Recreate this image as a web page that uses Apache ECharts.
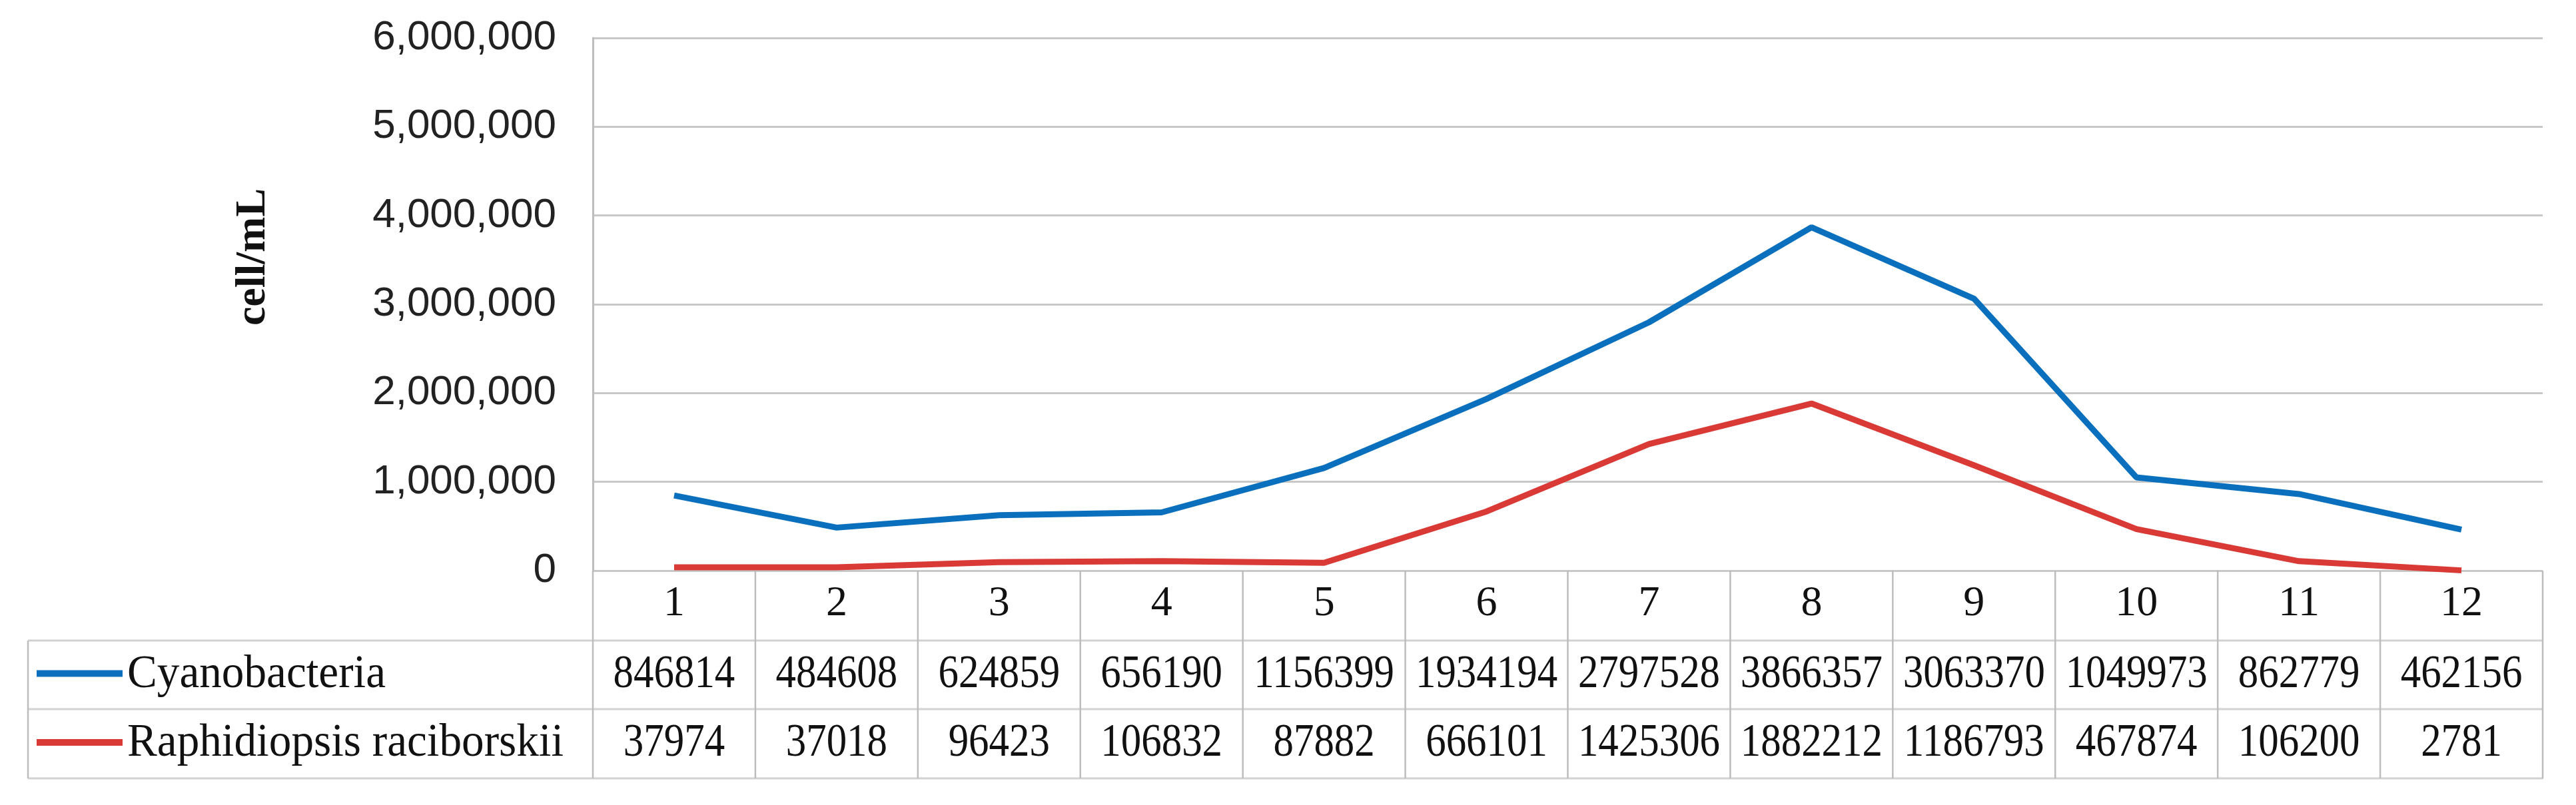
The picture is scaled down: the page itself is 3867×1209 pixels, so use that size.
<!DOCTYPE html>
<html>
<head>
<meta charset="utf-8">
<script src="https://cdn.jsdelivr.net/npm/echarts@6/dist/echarts.min.js"></script>
<style>
html,body{margin:0;padding:0;background:#fff;}
#chart{width:3867px;height:1209px;}
</style>
</head>
<body>
<div id="chart"></div>
<script>
const categories = ['1','2','3','4','5','6','7','8','9','10','11','12'];
const seriesNames = ['Cyanobacteria', 'Raphidiopsis raciborskii'];
const cyanobacteria = [846814, 484608, 624859, 656190, 1156399, 1934194, 2797528, 3866357, 3063370, 1049973, 862779, 462156];
const raphidiopsis = [37974, 37018, 96423, 106832, 87882, 666101, 1425306, 1882212, 1186793, 467874, 106200, 2781];
const yTicks = [0, 1000000, 2000000, 3000000, 4000000, 5000000, 6000000];
const yAxisTitle = 'cell/mL';

const colors = ['#0a70be', '#d93a36'];
const serif = '"Liberation Serif", "DejaVu Serif", serif';
const sans = '"Liberation Sans Narrow", "Liberation Sans", sans-serif';

const W = 3867, H = 1209;
const gridLeft = 890, gridRight = 50, gridTop = 57, gridBottom = 352;
const rowH = [105, 103, 104];
const tableLeft = 42;

const chart = echarts.init(document.getElementById('chart'), null, {renderer: 'canvas'});

const option = {
  backgroundColor: '#ffffff',
  animation: false,
  grid: {left: gridLeft, right: gridRight, top: gridTop, bottom: gridBottom, containLabel: false},
  xAxis: {
    type: 'category',
    data: categories,
    boundaryGap: true,
    axisLine: {show: false},
    axisTick: {show: false},
    axisLabel: {fontFamily: serif, fontSize: 64, color: '#111', margin: 18}
  },
  yAxis: {
    type: 'value',
    min: yTicks[0],
    max: yTicks[yTicks.length - 1],
    interval: yTicks[1] - yTicks[0],
    name: yAxisTitle,
    nameLocation: 'middle',
    nameRotate: 90,
    nameGap: 478,
    nameTextStyle: {fontFamily: serif, fontSize: 64, fontWeight: 'bold', color: '#111', padding: [0, 0, 0, 142]},
    axisLine: {show: true, lineStyle: {color: '#bdbdbd', width: 3}},
    axisTick: {show: false},
    splitLine: {show: true, lineStyle: {color: '#c8c8c8', width: 3}},
    axisLabel: {
      fontFamily: sans, fontSize: 62, color: '#222', margin: 55,
      formatter: v => v.toLocaleString('en-US')
    }
  },
  series: [
    {name: seriesNames[0], type: 'line', data: cyanobacteria, symbol: 'none', smooth: false,
     lineStyle: {color: colors[0], width: 9}, itemStyle: {color: colors[0]}, z: 3},
    {name: seriesNames[1], type: 'line', data: raphidiopsis, symbol: 'none', smooth: false,
     lineStyle: {color: colors[1], width: 9}, itemStyle: {color: colors[1]}, z: 3}
  ]
};
chart.setOption(option);

// Data table below the plot, positioned via the x axis scale
const plotRight = W - gridRight;
const y0 = H - gridBottom;
const rowTops = [y0, y0 + rowH[0], y0 + rowH[0] + rowH[1], y0 + rowH[0] + rowH[1] + rowH[2]];
const colW = (plotRight - gridLeft) / categories.length;
const elements = [];
const hLine = (x1, x2, y, c, w) => elements.push({type: 'line', shape: {x1, y1: y, x2, y2: y}, style: {stroke: c, lineWidth: w}, z: 10});
const vLine = (x, y1, y2, c, w) => elements.push({type: 'line', shape: {x1: x, y1, x2: x, y2}, style: {stroke: c, lineWidth: w}, z: 10});

for (let r = 1; r < rowTops.length; r++) hLine(tableLeft, plotRight + 1, rowTops[r], '#d2d2d2', 3);
vLine(tableLeft, rowTops[1], rowTops[3], '#bdbdbd', 2.5);
for (let k = 0; k <= categories.length; k++) {
  const cx = chart.convertToPixel({xAxisIndex: 0}, k === categories.length ? k - 1 : k);
  const bx = k === categories.length ? cx + colW / 2 : cx - colW / 2;
  vLine(bx, y0, rowTops[3], '#bdbdbd', 2.5);
}
const rows = [cyanobacteria, raphidiopsis];
rows.forEach((vals, r) => {
  const cy = (rowTops[r + 1] + rowTops[r + 2]) / 2;
  elements.push({type: 'line', shape: {x1: 55, y1: cy - 2, x2: 184, y2: cy - 2}, style: {stroke: colors[r], lineWidth: 10}, z: 10});
  elements.push({type: 'text', x: 191, y: cy, scaleX: 0.96, style: {text: seriesNames[r], fontFamily: serif, fontSize: 70, fill: '#111', align: 'left', verticalAlign: 'middle'}, z: 10});
  vals.forEach((v, i) => {
    const cx = chart.convertToPixel({xAxisIndex: 0}, i);
    elements.push({type: 'text', x: cx, y: cy, scaleX: 0.87, style: {text: String(v), fontFamily: serif, fontSize: 70, fill: '#111', align: 'center', verticalAlign: 'middle'}, z: 10});
  });
});
chart.setOption({graphic: {elements}});
</script>
</body>
</html>
